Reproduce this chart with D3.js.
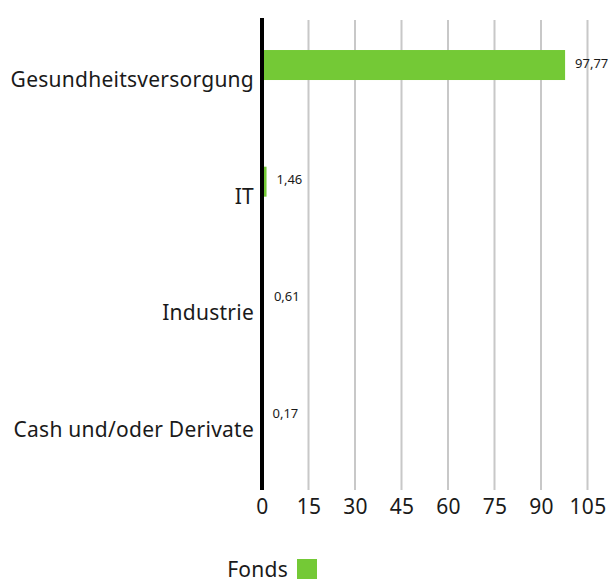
<!DOCTYPE html>
<html>
<head>
<meta charset="utf-8">
<script src="https://cdn.jsdelivr.net/npm/d3@7"></script>
<style>
  body { margin: 0; background: #fff; }
  svg { display: block; font-family: "Noto Sans", sans-serif; }
</style>
</head>
<body>
<svg id="chart" width="611" height="579"></svg>
<script>
// chart data
const categories = ['Gesundheitsversorgung', 'IT', 'Industrie', 'Cash und/oder Derivate'];
const fondsValues = [97.77, 1.46, 0.61, 0.17];
const valueLabels = ['97,77', '1,46', '0,61', '0,17'];
const xTicks = [0, 15, 30, 45, 60, 75, 90, 105];
const seriesName = 'Fonds';

const green = '#74c936';
const svg = d3.select('#chart');

const x = d3.scaleLinear()
  .domain([0, 105])
  .range([262, 587.5]);

const y = d3.scaleBand()
  .domain(categories)
  .range([6.7, 473.3]);

const barH = 30;
const gridTop = 20;
const gridBottom = 490;

// vertical grid lines
svg.append('g')
  .selectAll('line')
  .data(xTicks.slice(1))
  .enter().append('line')
  .attr('x1', d => x(d))
  .attr('x2', d => x(d))
  .attr('y1', gridTop)
  .attr('y2', gridBottom)
  .attr('stroke', '#c8c8c8')
  .attr('stroke-width', 2);

// bars
svg.selectAll('.bar')
  .data(fondsValues)
  .enter().append('rect')
  .attr('class', 'bar')
  .attr('x', x(0))
  .attr('y', (d, i) => y(categories[i]) + y.bandwidth() / 2 - barH / 2)
  .attr('width', d => x(d) - x(0))
  .attr('height', barH)
  .attr('fill', green);

// value labels
svg.selectAll('.val')
  .data(fondsValues)
  .enter().append('text')
  .attr('class', 'val')
  .attr('x', d => x(d) + 10)
  .attr('y', (d, i) => y(categories[i]) + y.bandwidth() / 2 - 2)
  .attr('dy', '0.35em')
  .attr('font-size', 13)
  .attr('fill', '#1a1a1a')
  .text((d, i) => valueLabels[i]);

// zero axis line
svg.append('line')
  .attr('x1', x(0))
  .attr('x2', x(0))
  .attr('y1', 18)
  .attr('y2', gridBottom)
  .attr('stroke', '#000')
  .attr('stroke-width', 4);

// x axis
const xAxis = svg.append('g')
  .attr('transform', `translate(0,${gridBottom})`)
  .call(d3.axisBottom(x).tickValues(xTicks).tickSize(0).tickPadding(9).tickFormat(d3.format('d')));
xAxis.select('.domain').remove();
xAxis.selectAll('text')
  .attr('font-size', 21)
  .attr('letter-spacing', 0.3)
  .attr('font-family', '"Noto Sans", sans-serif')
  .attr('fill', '#1a1a1a');

// category axis
const yAxis = svg.append('g')
  .attr('transform', 'translate(254,0)')
  .call(d3.axisLeft(y).tickSize(0).tickPadding(0));
yAxis.select('.domain').remove();
yAxis.selectAll('text')
  .attr('dy', 22)
  .attr('font-size', 21)
  .attr('letter-spacing', 0.25)
  .attr('font-family', '"Noto Sans", sans-serif')
  .attr('fill', '#1a1a1a');

// legend
const legend = svg.append('g');
legend.append('text')
  .attr('x', 288)
  .attr('y', 577)
  .attr('text-anchor', 'end')
  .attr('font-size', 21)
  .attr('letter-spacing', 0.25)
  .attr('fill', '#1a1a1a')
  .text(seriesName);
legend.append('rect')
  .attr('x', 297)
  .attr('y', 559)
  .attr('width', 20)
  .attr('height', 22)
  .attr('fill', green);
</script>
</body>
</html>
